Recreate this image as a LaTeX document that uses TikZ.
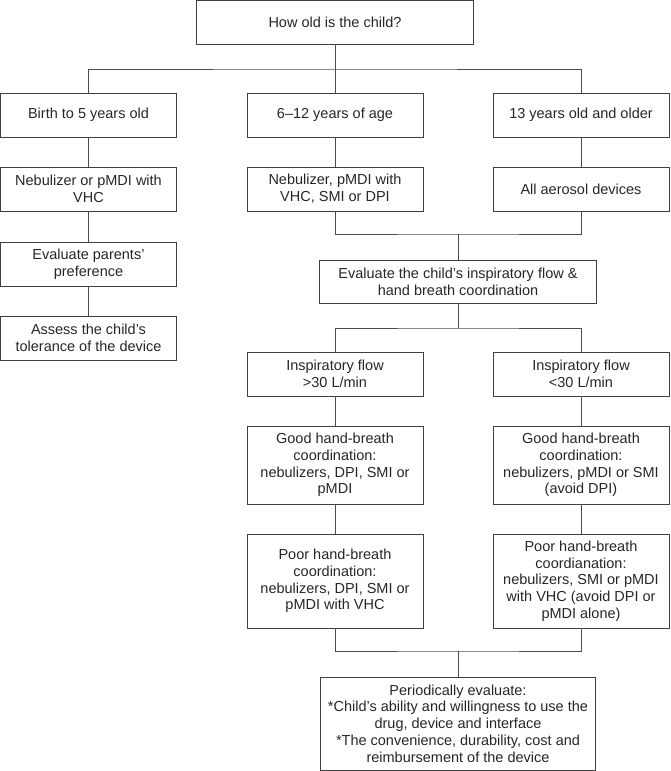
\documentclass[tikz,border=0pt]{standalone}
\usepackage{fontspec}
\setmainfont{Liberation Sans}
\begin{document}
\begin{tikzpicture}[x=1pt,y=-1pt,
    box/.style={draw=black!75, line width=0.9pt, align=center, inner sep=0pt,
      text=black!85, font=\fontsize{14.5}{16.7}\selectfont},
    wide/.style={box, minimum width=277pt},
    col/.style={box, minimum width=176pt},
    line/.style={draw=black!70, line width=0.9pt}]
  \useasboundingbox (0,0) rectangle (670,771);

  % Domanda iniziale
  \node[wide, minimum height=43.5pt] (age) at (335,22.25) {How old is the child?};

  % Fasce di eta
  \node[col, minimum height=44pt] (age1) at (88.5,115) {Birth to 5 years old};
  \node[col, minimum height=44pt] (age2) at (335,115) {6–12 years of age};
  \node[col, minimum height=44pt] (age3) at (581,115) {13 years old and older};

  % Dispositivi per fascia
  \node[col, minimum height=44pt] (dev1) at (88.5,189) {Nebulizer or pMDI with\\VHC};
  \node[col, minimum height=44pt] (dev2) at (335,189) {Nebulizer, pMDI with\\VHC, SMI or DPI};
  \node[col, minimum height=44pt] (dev3) at (581,189) {All aerosol devices};

  % Ramo sinistro
  \node[col, minimum height=44pt] (parents) at (88.5,264) {Evaluate parents’\\preference};
  \node[col, minimum height=44pt] (assess) at (88.5,338) {Assess the child’s\\tolerance of the device};

  % Valutazione del flusso
  \node[wide, minimum height=43pt] (evalc) at (458,281.5) {Evaluate the child’s inspiratory flow \&\\hand breath coordination};
  \node[col, minimum height=44pt] (flowhi) at (335,374) {Inspiratory flow\\>30 L/min};
  \node[col, minimum height=44pt] (flowlo) at (581,374) {Inspiratory flow\\<30 L/min};

  % Coordinazione mano-respiro
  \node[col, minimum height=78pt] (goodhi) at (335,465) {Good hand-breath\\coordination:\\nebulizers, DPI, SMI or\\pMDI};
  \node[col, minimum height=78pt] (goodlo) at (581,465) {Good hand-breath\\coordination:\\nebulizers, pMDI or SMI\\(avoid DPI)};
  \node[col, minimum height=94pt] (poorhi) at (335,581) {Poor hand-breath\\coordination:\\nebulizers, DPI, SMI or\\pMDI with VHC};
  \node[col, minimum height=94pt] (poorlo) at (581,581) {Poor hand-breath\\coordianation:\\nebulizers, SMI or pMDI\\with VHC (avoid DPI or\\pMDI alone)};

  % Verifica periodica
  \node[box, minimum width=275pt, minimum height=93pt] (final) at (458,723.5) {Periodically evaluate:\\*Child’s ability and willingness to use the\\drug, device and interface\\*The convenience, durability, cost and\\reimbursement of the device};

  % Collegamenti
  \coordinate (bus) at (335,69);
  \coordinate (join1) at (458,234);
  \coordinate (split) at (458,328);
  \coordinate (join2) at (458,651);
  \draw[line] (age.south) -- (age2.north);
  \draw[line] (age1.north) |- (bus) -| (age3.north);
  \draw[line] (age1) -- (dev1);
  \draw[line] (dev1) -- (parents);
  \draw[line] (parents) -- (assess);
  \draw[line] (age2) -- (dev2);
  \draw[line] (age3) -- (dev3);
  \draw[line] (dev2.south) |- (join1) -| (dev3.south);
  \draw[line] (join1) -- (evalc.north);
  \draw[line] (evalc.south) -- (split);
  \draw[line] (flowhi.north) |- (split) -| (flowlo.north);
  \draw[line] (flowhi) -- (goodhi);
  \draw[line] (goodhi) -- (poorhi);
  \draw[line] (flowlo) -- (goodlo);
  \draw[line] (goodlo) -- (poorlo);
  \draw[line] (poorhi.south) |- (join2) -| (poorlo.south);
  \draw[line] (join2) -- (final.north);
\end{tikzpicture}
\end{document}
